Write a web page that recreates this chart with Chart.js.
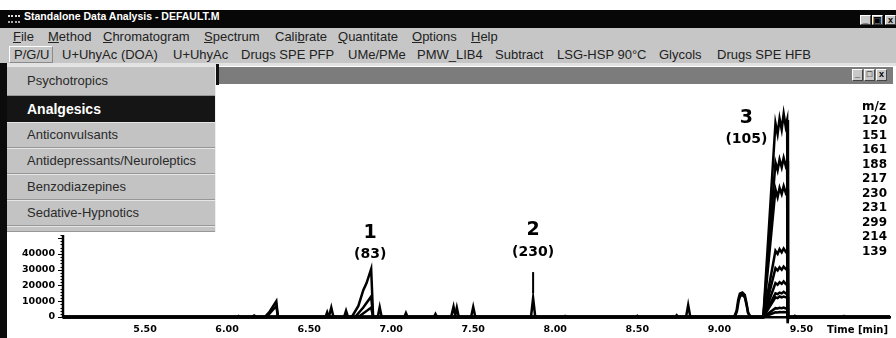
<!DOCTYPE html>
<html lang="en">
<head>
<meta charset="UTF-8" />
<title>Standalone Data Analysis - DEFAULT.M</title>
<script src="https://cdn.jsdelivr.net/npm/chart.js"></script>
<style>
  html, body { margin: 0; padding: 0; background: #fff; }
  body { width: 896px; height: 338px; position: relative; overflow: hidden;
         font-family: "Liberation Sans", Arial, sans-serif; color: #222; }
  .titlebar { position: absolute; left: 0; top: 10px; width: 896px; height: 18px; background: #070707; }
  .caption { position: absolute; left: 24px; top: 0; line-height: 18px; color: #fff;
             font: bold 10.5px "Liberation Sans", Arial, sans-serif; }
  .appicon { position: absolute; left: 8px; top: 5px; width: 12px; height: 8px;
             border-top: 2px dotted #ddd; border-bottom: 2px dotted #aaa; box-sizing: border-box; }
  .btn { position: absolute; width: 11px; height: 10px; background: #c8c8c8;
         border: 1px solid; border-color: #fff #444 #444 #fff; box-sizing: border-box;
         font: bold 9px "Liberation Sans", Arial, sans-serif; color: #000; text-align: center; line-height: 8px; }
  .bar { position: absolute; left: 0; width: 896px; background: #c6c6c6; }
  .bar span { position: absolute; white-space: nowrap; font-size: 13px; }
  .menubar { top: 28px; height: 16px; }
  .menubar span { top: 1px; }
  .toolbar { top: 44px; height: 19px; }
  .toolbar span { top: 3px; }
  .pressed { position: absolute; left: 9px; top: 46px; width: 44px; height: 17px;
             border: 1px solid; border-color: #fff #8a8a8a #8a8a8a #fff; box-sizing: border-box; }
  .sep { position: absolute; left: 0; top: 63px; width: 896px; height: 3px; background: #e2e2e2; }
  .mdibar { position: absolute; left: 219px; top: 67px; width: 674px; height: 17px; background: #7c7c7c; }
  .mdiedge { position: absolute; left: 216px; top: 64px; width: 3px; height: 21px; background: #111; }
  .leftedge { position: absolute; left: 0; top: 63px; width: 7px; height: 275px; background: #0b0b0b; }
  .client { position: absolute; left: 8px; top: 85px; width: 888px; height: 253px; background: #fff; }
  .dropdown { position: absolute; left: 7px; top: 66px; width: 209px; height: 166px;
              background: #c3c3c3; border-right: 1px solid #eee; box-sizing: border-box; }
  .item { position: absolute; left: 0; width: 208px; height: 26px; box-sizing: border-box;
          border-top: 1px solid #e6e6e6; border-bottom: 1px solid #979797;
          padding-left: 20px; line-height: 24px; font-size: 13px; color: #2a2a2a; }
  .item.active { background: #151515; color: #fff; font-weight: bold; font-size: 14px;
                 border-color: #151515; }
</style>
</head>
<body>

<div class="titlebar">
  <span class="appicon"></span>
  <span class="caption">Standalone Data Analysis - DEFAULT.M</span>
  <span class="btn" style="left:860px;top:5px">_</span>
  <span class="btn" style="left:872px;top:5px">&#9635;</span>
  <span class="btn" style="left:885px;top:5px">x</span>
</div>

<div class="bar menubar">
  <span style="left:13px"><u>F</u>ile</span>
  <span style="left:48px"><u>M</u>ethod</span>
  <span style="left:103px"><u>C</u>hromatogram</span>
  <span style="left:204px"><u>S</u>pectrum</span>
  <span style="left:275px">Cali<u>b</u>rate</span>
  <span style="left:338px"><u>Q</u>uantitate</span>
  <span style="left:412px"><u>O</u>ptions</span>
  <span style="left:471px"><u>H</u>elp</span>
</div>

<div class="bar toolbar">
  <span style="left:14px">P/G/U</span>
  <span style="left:62px">U+UhyAc (DOA)</span>
  <span style="left:173px">U+UhyAc</span>
  <span style="left:241px">Drugs SPE PFP</span>
  <span style="left:348px">UMe/PMe</span>
  <span style="left:417px">PMW_LIB4</span>
  <span style="left:495px">Subtract</span>
  <span style="left:557px">LSG-HSP 90°C</span>
  <span style="left:659px">Glycols</span>
  <span style="left:717px">Drugs SPE HFB</span>
</div>
<div class="pressed"></div>
<div class="sep"></div>

<div class="mdibar">
  <span class="btn" style="left:633px;top:2px;height:12px">_</span>
  <span class="btn" style="left:645px;top:2px;height:12px">&#9633;</span>
  <span class="btn" style="left:657px;top:2px;height:12px">x</span>
</div>
<div class="mdiedge"></div>
<div class="leftedge"></div>

<div class="client">
  <canvas id="chromatogram" width="888" height="253"></canvas>
</div>

<div class="dropdown">
  <div class="item" style="top:0;height:30px;line-height:28px">Psychotropics</div>
  <div class="item active" style="top:30px">Analgesics</div>
  <div class="item" style="top:56px">Anticonvulsants</div>
  <div class="item" style="top:82px">Antidepressants/Neuroleptics</div>
  <div class="item" style="top:108px">Benzodiazepines</div>
  <div class="item" style="top:134px">Sedative-Hypnotics</div>
  <div class="item" style="top:160px;height:6px"></div>
</div>

<script>
  // ion traces, m/z in legend order
  const ionLabels = ['120', '151', '161', '188', '217', '230', '231', '299', '214', '139'];
  const timeTicks = [5.5, 6.0, 6.5, 7.0, 7.5, 8.0, 8.5, 9.0, 9.5];
  const intensityTicks = [0, 10000, 20000, 30000, 40000];

  // [retention time (min), abundance]
  const ion120 = [[5.00, 0], [6.23, 0], [6.26, 3500], [6.30, 10000], [6.31, 0],
    [6.76, 0], [6.80, 7000], [6.83, 17000], [6.85, 21500], [6.878, 30500], [6.89, 0],
    [9.268, 0], [9.342, 123000], [9.355, 116000], [9.367, 126000], [9.380, 119000],
    [9.392, 129000], [9.404, 121000], [9.413, 125000], [9.418, 0], [10.04, 0]];
  const ion151 = [[5.00, 0], [6.24, 0], [6.30, 7000], [6.31, 0],
    [6.78, 0], [6.83, 6000], [6.878, 13000], [6.89, 0],
    [9.09, 0], [9.105, 4000], [9.115, 11000], [9.125, 14800], [9.14, 15500], [9.155, 14000],
    [9.165, 9000], [9.175, 3000], [9.19, 0],
    [9.268, 0], [9.342, 98000], [9.355, 93000], [9.367, 100000], [9.380, 95000],
    [9.392, 101000], [9.404, 96000], [9.413, 99000], [9.418, 0], [10.04, 0]];
  const ion161 = [[5.00, 0], [6.62, 0], [6.635, 6000], [6.648, 0],
    [6.80, 0], [6.878, 6000], [6.89, 0], [7.365, 0], [7.38, 6500], [7.392, 0],
    [9.268, 0], [9.342, 81000], [9.355, 76000], [9.367, 82000], [9.380, 78000],
    [9.392, 83000], [9.404, 79000], [9.413, 81000], [9.418, 0], [10.04, 0]];
  const ion188 = [[5.00, 0], [6.60, 0], [6.61, 3000], [6.62, 0],
    [6.918, 0], [6.93, 6300], [6.942, 0], [7.487, 0], [7.50, 6300], [7.513, 0],
    [9.268, 0], [9.342, 42000], [9.355, 40000], [9.367, 43000], [9.380, 41000],
    [9.392, 43500], [9.404, 41500], [9.413, 42500], [9.418, 0], [10.04, 0]];
  const ion217 = [[5.00, 0], [6.713, 0], [6.725, 4000], [6.737, 0],
    [7.08, 0], [7.09, 2500], [7.10, 0], [8.797, 0], [8.81, 7600], [8.823, 0],
    [9.268, 0], [9.342, 31000], [9.355, 29500], [9.367, 31500], [9.380, 30000],
    [9.392, 32000], [9.404, 30500], [9.413, 31000], [9.418, 0], [10.04, 0]];
  const ion230 = [[5.00, 0], [7.26, 0], [7.27, 2000], [7.28, 0],
    [7.852, 0], [7.865, 12000], [7.878, 0],
    [9.268, 0], [9.342, 21500], [9.355, 20500], [9.367, 22000], [9.380, 21000],
    [9.392, 22500], [9.404, 21000], [9.413, 21500], [9.418, 0], [10.04, 0]];
  const ion231 = [[5.00, 0], [6.15, 0], [6.165, 1000], [6.18, 0],
    [9.095, 0], [9.108, 4000], [9.118, 10500], [9.128, 13500], [9.142, 14000], [9.155, 12500],
    [9.165, 8000], [9.175, 2500], [9.19, 0],
    [9.268, 0], [9.342, 15000], [9.355, 14500], [9.367, 15500], [9.380, 15000],
    [9.392, 16000], [9.404, 15000], [9.413, 15500], [9.416, -4000], [9.42, 0], [10.04, 0]];
  const ion299 = [[5.00, 0], [6.06, 0], [6.07, 600], [6.08, 0],
    [7.388, 0], [7.40, 6000], [7.412, 0],
    [9.268, 0], [9.342, 12500], [9.355, 12000], [9.367, 13000], [9.380, 12500],
    [9.392, 13000], [9.404, 12500], [9.413, 12800], [9.418, 0], [10.04, 0]];
  const ion214 = [[5.00, 0], [8.73, 0], [8.74, 1200], [8.75, 0],
    [9.268, 0], [9.342, 5600], [9.355, 5400], [9.367, 5800], [9.380, 5600],
    [9.392, 6000], [9.404, 5500], [9.413, 5700], [9.418, 0],
    [9.45, 0], [9.46, 800], [9.47, 0], [10.04, 0]];
  const ion139 = [[5.00, 0], [8.05, 0], [8.06, 700], [8.07, 0], [8.49, 0], [8.50, 800], [8.51, 0],
    [9.268, 0], [9.342, 3000], [9.355, 2900], [9.367, 3100], [9.380, 3000],
    [9.392, 3200], [9.404, 3000], [9.413, 3100], [9.418, 0],
    [9.75, 0], [9.76, 600], [9.77, 0], [10.04, 0]];

  const traces = [ion120, ion151, ion161, ion188, ion217, ion230, ion231, ion299, ion214, ion139];

  // identified peaks: number and reference code
  const peakTimes = [6.878, 7.865, 9.342];
  const peakNumbers = ['1', '2', '3'];
  const peakCodes = ['(83)', '(230)', '(105)'];

  const labelFont = '"DejaVu Sans", Verdana, sans-serif';

  // y axis line with minor ticks, peak labels, m/z list, time caption
  const decorations = {
    id: 'decorations',
    afterDatasetsDraw(chart) {
      const { ctx, chartArea, scales: { x, y } } = chart;
      ctx.save();
      ctx.strokeStyle = '#000';
      ctx.fillStyle = '#000';

      const ax = chartArea.left;
      ctx.lineWidth = 2.5;
      ctx.beginPath();
      ctx.moveTo(ax, y.getPixelForValue(0) + 1);
      ctx.lineTo(ax, y.getPixelForValue(52000));
      ctx.stroke();
      ctx.lineWidth = 1;
      for (let v = 0; v <= 52000; v += 2000) {
        const py = Math.round(y.getPixelForValue(v)) + 0.5;
        const len = intensityTicks.includes(v) || v === 50000 ? 5 : 2.5;
        ctx.beginPath();
        ctx.moveTo(ax - len, py);
        ctx.lineTo(ax, py);
        ctx.stroke();
      }

      // peak labels sit above the tallest trace at each peak
      const layout = [
        { dx: -1, numDy: -36, codeDy: -15, marker: null },
        { dx: 0, numDy: -68, codeDy: -46, marker: [-26, -5] },
        { dx: -29, numDy: -5, codeDy: 16, marker: null }
      ];
      peakTimes.forEach((t, i) => {
        let top = 0;
        traces.forEach(tr => tr.forEach(([pt, v]) => { if (Math.abs(pt - t) < 0.002) top = Math.max(top, v); }));
        const px = x.getPixelForValue(t) + layout[i].dx;
        const py = y.getPixelForValue(top);
        ctx.textAlign = 'center';
        ctx.textBaseline = 'middle';
        ctx.font = 'bold 19px ' + labelFont;
        ctx.fillText(peakNumbers[i], px, py + layout[i].numDy);
        ctx.font = 'bold 14px ' + labelFont;
        ctx.fillText(peakCodes[i], px, py + layout[i].codeDy);
        if (layout[i].marker) {
          ctx.lineWidth = 2;
          ctx.beginPath();
          ctx.moveTo(px, py + layout[i].marker[0]);
          ctx.lineTo(px, py + layout[i].marker[1]);
          ctx.stroke();
        }
      });

      // m/z list
      ctx.textAlign = 'left';
      ctx.font = 'bold 12px ' + labelFont;
      const lx = chartArea.right - 28;
      ctx.fillText('m/z', lx, chartArea.top + 2);
      ionLabels.forEach((m, i) => ctx.fillText(m, lx, chartArea.top + 16 + i * 14.5));

      ctx.textAlign = 'right';
      ctx.font = 'bold 10px ' + labelFont;
      ctx.fillText('Time [min]', chartArea.right - 2, chartArea.bottom + 13);
      ctx.restore();
    }
  };

  new Chart(document.getElementById('chromatogram'), {
    type: 'line',
    data: {
      datasets: traces.map((tr, i) => ({
        label: ionLabels[i],
        data: tr,
        borderColor: '#000',
        borderWidth: 2.5,
        pointRadius: 0,
        tension: 0,
        fill: false,
        clip: 10
      }))
    },
    options: {
      responsive: false,
      animation: false,
      devicePixelRatio: 1,
      layout: { padding: { top: 20, right: 6, left: 0, bottom: 0 } },
      plugins: { legend: { display: false }, tooltip: { enabled: false } },
      scales: {
        x: {
          type: 'linear',
          min: 5.0,
          max: 10.04,
          afterBuildTicks: s => { s.ticks = timeTicks.map(v => ({ value: v })); },
          afterFit: s => { s.height = 21; },
          grid: { display: false, drawTicks: false },
          border: { display: true, color: '#000', width: 2.5 },
          ticks: {
            padding: 7,
            color: '#000',
            font: { family: labelFont, size: 9.5, weight: 'bold' },
            callback: v => v.toFixed(2)
          }
        },
        y: {
          type: 'linear',
          min: 0,
          max: 134500,
          afterBuildTicks: s => { s.ticks = intensityTicks.map(v => ({ value: v })); },
          afterFit: s => { s.width = 55; },
          grid: { display: false, drawTicks: false },
          border: { display: false },
          ticks: {
            padding: 8,
            color: '#000',
            font: { family: labelFont, size: 9.5, weight: 'bold' },
            callback: v => String(v)
          }
        }
      }
    },
    plugins: [decorations]
  });
</script>
</body>
</html>
